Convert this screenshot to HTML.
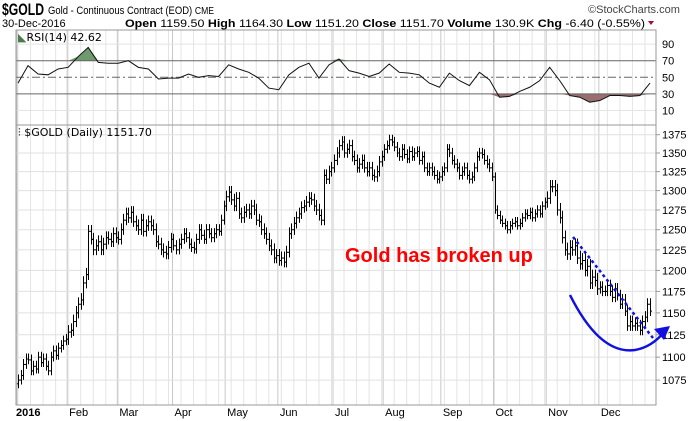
<!DOCTYPE html>
<html><head><meta charset="utf-8"><style>
body{margin:0;background:#fff;}
svg{display:block;font-family:"Liberation Sans",Arial,sans-serif;}
</style></head><body>
<svg id="chart" width="700" height="421" viewBox="0 0 700 421" xmlns="http://www.w3.org/2000/svg">
<rect width="700" height="421" fill="#fff"/>
<g>
<text x="2" y="15" font-size="17" font-weight="bold" textLength="42" lengthAdjust="spacingAndGlyphs">$GOLD</text>
<text x="48" y="14" font-size="11" textLength="166" lengthAdjust="spacingAndGlyphs">Gold - Continuous Contract (EOD) <tspan font-size="10">CME</tspan></text>
<text x="588" y="13" font-size="11" fill="#444">©StockCharts.com</text>
<text x="2" y="27" font-size="11">30-Dec-2016</text>
<text x="125" y="27" font-size="11" textLength="520" lengthAdjust="spacingAndGlyphs"><tspan font-weight="bold">Open</tspan> 1159.50 <tspan font-weight="bold">High</tspan> 1164.30 <tspan font-weight="bold">Low</tspan> 1151.20 <tspan font-weight="bold">Close</tspan> 1151.70 <tspan font-weight="bold">Volume</tspan> 130.9K <tspan font-weight="bold">Chg</tspan> -6.40 (-0.55%)</text>
<polygon points="648,21 654,21 651,25" fill="#a0102a"/>
</g>
<g id="grid"></g>
<g id="rsi"></g>
<g id="price"></g>
<rect x="16" y="30" width="640" height="95" fill="none" stroke="#999"/>
<rect x="16" y="125" width="640" height="280" fill="none" stroke="#999"/>
<text x="18" y="41" font-size="11" font-family="DejaVu Sans, sans-serif"><tspan fill="#4a7a4a">◣</tspan>RSI(14) 42.62</text>
<text x="18" y="136" font-size="11" font-family="DejaVu Sans, sans-serif">⫶ $GOLD (Daily) 1151.70</text>
<text x="345" y="262" font-size="20" font-weight="bold" fill="#f00">Gold has broken up</text>
<line x1="573" y1="237" x2="653" y2="338" stroke="#1010e0" stroke-width="2.5" stroke-dasharray="3,3"/>
<path d="M570,295 Q600,355 635,350 Q652,347 664,332" fill="none" stroke="#1010e0" stroke-width="2.5"/>
<polygon points="670,326 654,329 664,340" fill="#1010e0"/>
</svg>
<script>
const months = ["2016","Feb","Mar","Apr","May","Jun","Jul","Aug","Sep","Oct","Nov","Dec"];
const monthDays = [20,20,22,21,21,22,20,23,21,21,21,21];
const closes = [
1075,1080,1092,1098,1097,1085,1090,1087,1100,1094,1098,1090,1085,1100,1107,1102,1110,1113,1118,1120,
1128,1130,1140,1150,1160,1165,1185,1195,1248,1238,1225,1230,1235,1225,1232,1240,1238,1235,1245,1240,
1238,1250,1262,1270,1265,1272,1260,1255,1250,1262,1248,1255,1260,1255,1250,1235,1232,1225,1222,1220,1228,1238,
1230,1225,1232,1238,1245,1240,1232,1228,1226,1238,1250,1243,1238,1250,1245,1240,1245,1250,1248,1262,1280,
1292,1298,1288,1280,1290,1270,1265,1272,1275,1270,1280,1275,1262,1260,1250,1245,1238,1230,1225,1215,1218,
1212,1215,1210,1222,1245,1250,1258,1265,1270,1278,1280,1285,1290,1288,1280,1275,1268,1262,1320,1315,1325,1330,
1340,1350,1360,1365,1350,1355,1360,1345,1340,1330,1335,1340,1330,1325,1330,1320,1318,1325,1338,1345,
1355,1360,1368,1365,1358,1350,1345,1355,1348,1342,1352,1345,1350,1352,1340,1345,1330,1325,1330,1325,1320,1315,1318,
1325,1330,1355,1350,1340,1335,1330,1320,1325,1330,1320,1315,1318,1330,1345,1350,1348,1340,1335,1330,1318,
1275,1268,1262,1258,1255,1250,1255,1258,1260,1255,1258,1265,1270,1268,1272,1265,1270,1275,1270,1280,1285,
1290,1305,1305,1300,1275,1265,1240,1225,1220,1228,1225,1230,1215,1208,1212,1200,1205,1185,1192,1188,1178,
1180,1175,1175,1182,1175,1168,1178,1170,1160,1165,1152,1135,1140,1135,1138,1135,1130,1140,1145,1160,1152];
const monthSpread = [6,8,8,7,8,8,8,7,7,6,9,7];
// RSI(14) sampled every 4th trading day
const rsiStep = 4;
const rsiValues = [43,64,54,53,60,62,75,86,68,67,67,70,62,60,48,49,49,54,50,52,51,65,60,56,49,37,35,53,62,67,49,65,
72,58,55,51,55,66,56,55,53,43,38,55,46,40,56,47,26,27,33,38,46,62,46,28,26,20,22,28,28,27,28,43];
const priceTicks = [1375,1350,1325,1300,1275,1250,1225,1200,1175,1150,1125,1100,1075];
const rsiTicks = [90,70,50,30,10];

const NS="http://www.w3.org/2000/svg";
function el(tag,attrs,parent){const e=document.createElementNS(NS,tag);for(const k in attrs)e.setAttribute(k,attrs[k]);parent.appendChild(e);return e;}
const X0=18, DX=(650-18)/(closes.length-1);
const xOf=i=>X0+i*DX;
const yP=v=>134.7+997*Math.log(1375/v);
const yR=v=>77.3-(v-50)*0.83;
const grid=document.getElementById('grid'), rsiG=document.getElementById('rsi'), priceG=document.getElementById('price');

let idx=0; const monthStart=[];
monthDays.forEach(d=>{monthStart.push(idx);idx+=d;});
for(let i=0;i<closes.length;i+=5){
  const l=el('line',{x1:xOf(i),x2:xOf(i),y1:30,y2:405,stroke:'#e4e4e4'},grid);
  
  
}
monthStart.forEach((s,m)=>{
  const x=xOf(s)-1;
  const l=el('line',{x1:x,x2:x,y1:30,y2:405,stroke:'#c8c8c8'},grid);
  
  
  const t=el('text',{x:m===0?x-1:x+2,y:416,'font-size':11,'font-weight':m===0?'bold':'normal'},grid);
  t.textContent=months[m];
  
  
});
priceTicks.forEach(v=>{
  const y=yP(v);
  const l=el('line',{x1:16,x2:656,y1:y,y2:y,stroke:'#e0e0e0'},grid);
  
  
  el('line',{x1:656,x2:660,y1:y,y2:y,stroke:'#999'},grid);
  const t=el('text',{x:662,y:y+4,'font-size':11},grid);
  t.textContent=v;
  
  
});
rsiTicks.forEach(v=>{
  const y=yR(v);
  const t=el('text',{x:662,y:y+4,'font-size':11},grid);
  t.textContent=v;
  
  
  if(v===90||v===10){el('line',{x1:16,x2:656,y1:y,y2:y,stroke:'#e4e4e4'},grid);}
});

const pts=rsiValues.map((v,k)=>[xOf(k*rsiStep),yR(v)]);
const up=el('path',{d:'M'+pts.map(p=>p[0]+','+Math.min(p[1],yR(70))).join('L')+'L'+pts[pts.length-1][0]+','+yR(70)+'L'+pts[0][0]+','+yR(70)+'Z',fill:'#6e9a6e'},rsiG);


const dn=el('path',{d:'M'+pts.map(p=>p[0]+','+Math.max(p[1],yR(30))).join('L')+'L'+pts[pts.length-1][0]+','+yR(30)+'L'+pts[0][0]+','+yR(30)+'Z',fill:'#9a6e6e'},rsiG);


[[70,'none'],[30,'none'],[50,'8,3,2,3']].forEach(([v,da])=>{
  const l=el('line',{x1:16,x2:656,y1:yR(v),y2:yR(v),stroke:'#666','stroke-dasharray':da},rsiG);
  
  
});
const rl=el('polyline',{points:pts.map(p=>p.join(',')).join(' '),fill:'none',stroke:'#111','stroke-width':1},rsiG);



let m=0;
closes.forEach((c,i)=>{
  while(m<monthStart.length-1 && i>=monthStart[m+1]) m++;
  const o=i===0?c-4:closes[i-1];
  const s=monthSpread[m];
  const hi=Math.max(o,c)+s, lo=Math.min(o,c)-s*0.8;
  const x=Math.round(xOf(i))+0.5;
  const g=el('g',{stroke:'#000','stroke-width':1},priceG);
  
  
  el('line',{x1:x,x2:x,y1:yP(hi),y2:yP(lo)},g);
  el('line',{x1:x-1.5,x2:x,y1:yP(o),y2:yP(o)},g);
  el('line',{x1:x,x2:x+1.5,y1:yP(c),y2:yP(c)},g);
});
</script>
</body></html>
